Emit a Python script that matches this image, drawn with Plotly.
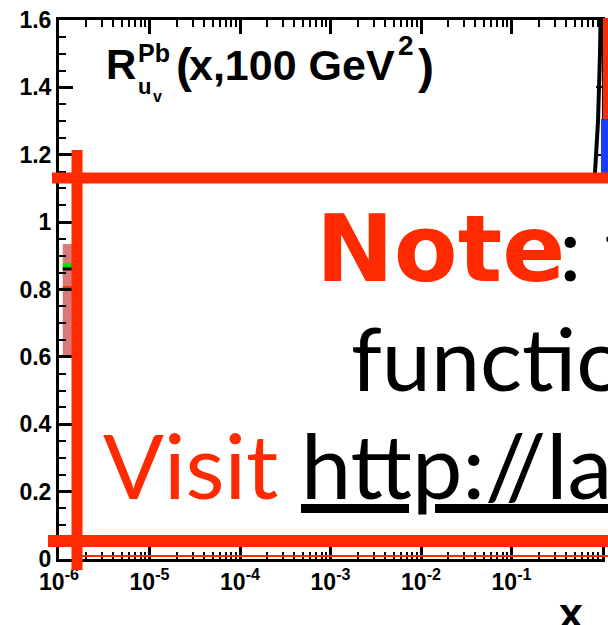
import plotly.graph_objects as go

# ---------------- data ----------------
x_central = [1.1e-6, 1e-5, 1e-4, 1e-3, 1e-2, 0.03, 0.1, 0.2, 0.3, 0.5, 0.65, 0.75, 0.8, 0.838, 0.904, 0.95, 0.98]
r_central = [0.862, 0.865, 0.87, 0.88, 0.93, 1.0, 1.08, 1.06, 1.0, 0.9, 0.86, 0.92, 1.02, 1.15, 1.30, 1.5, 1.7]

x_other = [1.1e-6, 1e-5, 1e-4, 1e-3, 1e-2, 0.03, 0.1, 0.2, 0.3, 0.5, 0.65, 0.75, 0.8]
r_green = [0.871, 0.873, 0.878, 0.89, 0.94, 1.01, 1.09, 1.07, 1.01, 0.91, 0.87, 0.93, 1.0]
r_red = [0.804, 0.806, 0.81, 0.83, 0.9, 0.98, 1.1, 1.08, 1.02, 0.92, 0.87, 0.9, 0.98]
band_low = [0.60, 0.61, 0.64, 0.70, 0.82, 0.93, 1.02, 1.0, 0.95, 0.85, 0.80, 0.84, 0.9]
band_high = [0.935, 0.93, 0.93, 0.94, 0.99, 1.05, 1.13, 1.11, 1.05, 0.95, 0.92, 0.98, 1.06]

x_tickvals = [1e-6, 1e-5, 1e-4, 1e-3, 1e-2, 1e-1, 1]
x_ticktext = ["10<sup>-6</sup>", "10<sup>-5</sup>", "10<sup>-4</sup>", "10<sup>-3</sup>",
              "10<sup>-2</sup>", "10<sup>-1</sup>", "1"]
y_tickvals = [0, 0.2, 0.4, 0.6, 0.8, 1.0, 1.2, 1.4, 1.6]
y_ticktext = ["0", "0.2", "0.4", "0.6", "0.8", "1", "1.2", "1.4", "1.6"]

note_word = "Note"
note_rest = ": the"
line2 = "functions"
visit_word = "Visit"
url_text = "http://lapth"

# ---------------- layout geometry ----------------
W, H = 608, 625
L, R, T, B = 59, 6, 20, 66
PW, PH = W - L - R, H - T - B
RED = "#ff2a00"

def px(p):
    return (p - L) / PW

def py(p):
    return (H - B - p) / PH

def txt(s, left, base, size, family, color="black", weight="normal", desc=0.212, **fk):
    return dict(text=s, x=px(left), y=py(base + desc * size), xref="paper", yref="paper",
                xanchor="left", yanchor="bottom", showarrow=False, borderpad=0,
                font=dict(family=family, size=size, color=color, weight=weight, **fk))

fig = go.Figure()
fig.add_trace(go.Scatter(x=x_other, y=band_low, mode="lines", line=dict(width=0, color="#d87878"),
                         showlegend=False, hoverinfo="skip"))
fig.add_trace(go.Scatter(x=x_other, y=band_high, mode="lines", line=dict(width=0, color="#d87878"),
                         fill="tonexty", fillcolor="#d87878", showlegend=False, hoverinfo="skip"))
fig.add_trace(go.Scatter(x=x_other, y=r_red, mode="lines", line=dict(width=4, color=RED), showlegend=False))
fig.add_trace(go.Scatter(x=x_central, y=r_central, mode="lines", line=dict(width=4, color="black"), showlegend=False))
fig.add_trace(go.Scatter(x=x_other, y=r_green, mode="lines", line=dict(width=4, color="#00e600"), showlegend=False))
# right frame axis
fig.add_trace(go.Scatter(x=[1e-3], y=[0.5], yaxis="y2", mode="markers", marker=dict(opacity=0),
                         showlegend=False, hoverinfo="skip"))

tickfont = dict(family="Liberation Sans", size=23, color="black", weight="bold")
minor_x = [k * 10.0 ** e for e in range(-6, 0) for k in range(2, 10)]

fig.update_layout(
    width=W, height=H, margin=dict(l=L, r=R, t=T, b=B, pad=0),
    paper_bgcolor="white", plot_bgcolor="white",
    xaxis=dict(type="log", range=[-6, 0], showgrid=False, zeroline=False,
               showline=True, linewidth=3, linecolor="black", mirror="ticks",
               ticks="inside", ticklen=14, tickwidth=2.5, tickcolor="black",
               tickmode="array", tickvals=x_tickvals, ticktext=x_ticktext, tickfont=tickfont,
               minor=dict(ticks="inside", ticklen=7, tickwidth=2, tickcolor="black",
                          tickmode="array", tickvals=minor_x, showgrid=False)),
    yaxis=dict(range=[0, 1.6], showgrid=False, zeroline=False,
               showline=True, linewidth=3, linecolor="black", mirror=False,
               ticks="inside", ticklen=14, tickwidth=2.5, tickcolor="black",
               tickmode="array", tickvals=y_tickvals, ticktext=y_ticktext, tickfont=tickfont,
               minor=dict(ticks="inside", ticklen=7, tickwidth=2, tickcolor="black",
                          dtick=0.05, tick0=0, showgrid=False)),
    yaxis2=dict(range=[0, 1.6], overlaying="y", side="right", showgrid=False, zeroline=False,
                showline=True, linewidth=3, linecolor="black", ticks="inside", ticklen=6,
                tickwidth=2, tickcolor="black", tickmode="array", tickvals=y_tickvals,
                showticklabels=False),
)

shapes = []
# stuff just beyond right frame
shapes.append(dict(type="rect", xref="paper", yref="paper", x0=px(603), x1=px(612), y0=py(178), y1=py(18),
                   fillcolor=RED, line=dict(width=0), layer="above"))
shapes.append(dict(type="rect", xref="paper", yref="paper", x0=px(601), x1=px(612), y0=py(178), y1=py(119),
                   fillcolor="#1a3cff", line=dict(width=0), layer="above"))
# overlay note box
shapes.append(dict(type="rect", xref="paper", yref="paper", x0=px(77), x1=px(620), y0=py(541), y1=py(178),
                   fillcolor="white", line=dict(width=0), layer="above"))
shapes.append(dict(type="line", xref="paper", yref="paper", x0=px(75), x1=px(620), y0=py(556), y1=py(556),
                   line=dict(color=RED, width=2), layer="above"))
shapes.append(dict(type="line", xref="paper", yref="paper", x0=px(52), x1=px(620), y0=py(178), y1=py(178),
                   line=dict(color=RED, width=11), layer="above"))
shapes.append(dict(type="line", xref="paper", yref="paper", x0=px(48), x1=px(620), y0=py(541), y1=py(541),
                   line=dict(color=RED, width=12), layer="above"))
shapes.append(dict(type="line", xref="paper", yref="paper", x0=px(77), x1=px(77), y0=py(570), y1=py(150),
                   line=dict(color=RED, width=11), layer="above"))
fig.update_layout(shapes=shapes)

ann = []
HB = "Liberation Sans"
ann.append(txt("R", 105, 80, 42, HB, weight="bold"))
ann.append(txt("Pb", 137, 63, 25, HB, weight="bold"))
ann.append(txt("u", 137, 95, 22, HB, weight="bold"))
ann.append(txt("v", 152, 103, 16, HB, weight="bold"))
ann.append(txt("(", 175, 83, 48, HB, weight="bold"))
ann.append(txt("x,100 GeV", 188, 81, 43, HB, weight="bold"))
ann.append(txt("2", 397, 56, 28, HB, weight="bold"))
ann.append(txt(")", 417, 84, 48, HB, weight="bold"))
ann.append(txt("x", 558, 629, 43, HB, weight="bold"))

ann.append(txt(note_word, 315, 282, 93, "DejaVu Sans", color=RED, weight="bold", desc=0.236))
ann.append(txt(note_rest, 558, 282, 90, "Lato", desc=0.213))
ann.append(txt(line2, 350, 392, 88, "Lato", desc=0.213))
ann.append(txt(visit_word, 102, 500, 90, "Lato", color=RED, desc=0.213))
ann.append(txt(url_text, 300, 500, 90, "Lato", desc=0.213, lineposition="under"))
fig.update_layout(annotations=ann)

fig.write_html("out.html")
